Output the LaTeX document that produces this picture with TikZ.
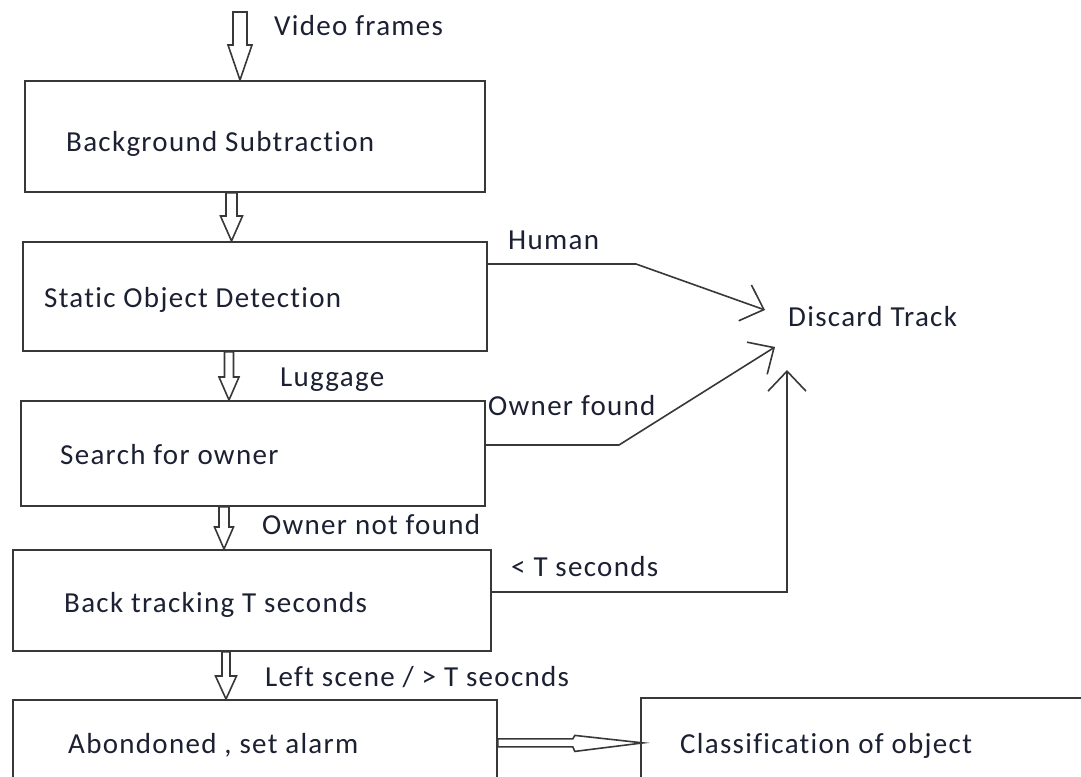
\documentclass[tikz,border=0pt]{standalone}
\usepackage{fontspec}
\setmainfont{Carlito}[LetterSpace=4.5,Ligatures=NoCommon]
\usetikzlibrary{arrows.meta,calc}
\definecolor{ink}{HTML}{1C2033}
\definecolor{edge}{HTML}{383838}

% hollow block arrow pointing down: #1 start, #2 tip, #3 shaft half width,
% #4 head half width, #5 head length
\newcommand\downblock[5]{%
  \draw[blockarrow] let \p1=(#1), \p2=(#2) in
    (\x1-#3,\y1) -- (\x1-#3,\y2+#5) -- (\x1-#4,\y2+#5) -- (\x1,\y2)
    -- (\x1+#4,\y2+#5) -- (\x1+#3,\y2+#5) -- (\x1+#3,\y1) -- cycle;}

\tikzset{
  stagebox/.style={draw=edge, line width=1.8pt, rectangle, anchor=north west, inner sep=0pt},
  label/.style={text=ink, anchor=base west, inner sep=0pt, font=\fontsize{29pt}{34pt}\selectfont},
  blockarrow/.style={draw=edge, line width=1.6pt, fill=white, line join=miter},
  thinarrow/.style={draw=edge, line width=1.6pt, -{Straight Barb[length=20pt,width=38pt,line width=1.6pt]}},
}

\begin{document}
\begin{tikzpicture}[x=1pt,y=-1pt]
\useasboundingbox[fill=white] (0,0) rectangle (1081,776);

% stage boxes
\node[stagebox, minimum width=460pt, minimum height=111pt] (b1) at (24,80) {};
\node[stagebox, minimum width=464pt, minimum height=109pt] (b2) at (22,241) {};
\node[stagebox, minimum width=464pt, minimum height=105pt] (b3) at (20,400) {};
\node[stagebox, minimum width=478pt, minimum height=101pt] (b4) at (12,549) {};
\node[stagebox, minimum width=484pt, minimum height=95pt] (b5) at (12,699) {};
\node[stagebox, minimum width=460pt, minimum height=95pt] (b6) at (640,697) {};

% texts
\node[label] (tvf) at (274,36) {Video frames};
\node[label] (t1) at (66,151) {Background Subtraction};
\node[label] (thu) at (508,249) {Human};
\node[label] (t2) at (44,307) {Static Object Detection};
\node[label] (dt) at (788,326) {Discard Track};
\node[label] (tlu) at (280,386) {Luggage};
\node[label] (tof) at (488,415) {Owner found};
\node[label] (t3) at (60,464) {Search for owner};
\node[label] (tnf) at (262,534) {Owner not found};
\node[label] (tlt) at (511,576) {< T seconds};
\node[label] (t4) at (64,612) {Back tracking T seconds};
\node[label] (tls) at (265,686) {Left scene / > T seocnds};
\node[label] (t5) at (68,753) {Abondoned , set alarm};
\node[label] (t6) at (680,753) {Classification of object};

% free ends and bends of the thin connectors
\coordinate (vin) at (240,12);
\coordinate (hbend) at (636,264);
\coordinate (htip) at (765,310);
\coordinate (obend) at (619,445);
\coordinate (otip) at (775,347);
\coordinate (lbend) at (787,592);
\coordinate (ltip) at (787,370);

% block arrows down the pipeline
\downblock{vin}{b1.north}{7pt}{12pt}{35pt}
\downblock{[xshift=207.5pt]b1.south west}{[xshift=209.5pt]b2.north west}{5.5pt}{11pt}{25pt}
\downblock{[xshift=207pt]b2.south west}{[xshift=209pt]b3.north west}{4.5pt}{10pt}{23pt}
\downblock{[xshift=204pt]b3.south west}{[xshift=212pt]b4.north west}{5pt}{9.5pt}{22pt}
\downblock{[xshift=214pt]b4.south west}{[xshift=214pt]b5.north west}{4pt}{10.5pt}{23pt}

% sideways block arrow into the classification box
\draw[blockarrow] let \p1=([yshift=4.5pt]b5.east), \p2=(b6.west) in
  (\x1,\y1+4pt) -- (\x1+75pt,\y1+4pt) -- (\x1+77pt,\y1+7.5pt) -- (\x2+3pt,\y1)
  -- (\x1+77pt,\y1-8.5pt) -- (\x1+75pt,\y1-4pt) -- (\x1,\y1-4pt) -- cycle;

% thin connectors to the discard state
\draw[thinarrow] (b2.east |- hbend) -- (hbend) -- (htip);
\draw[thinarrow] (b3.east |- obend) -- (obend) -- (otip);
\draw[thinarrow] (b4.east |- lbend) -- (lbend) -- (ltip);
\end{tikzpicture}
\end{document}
